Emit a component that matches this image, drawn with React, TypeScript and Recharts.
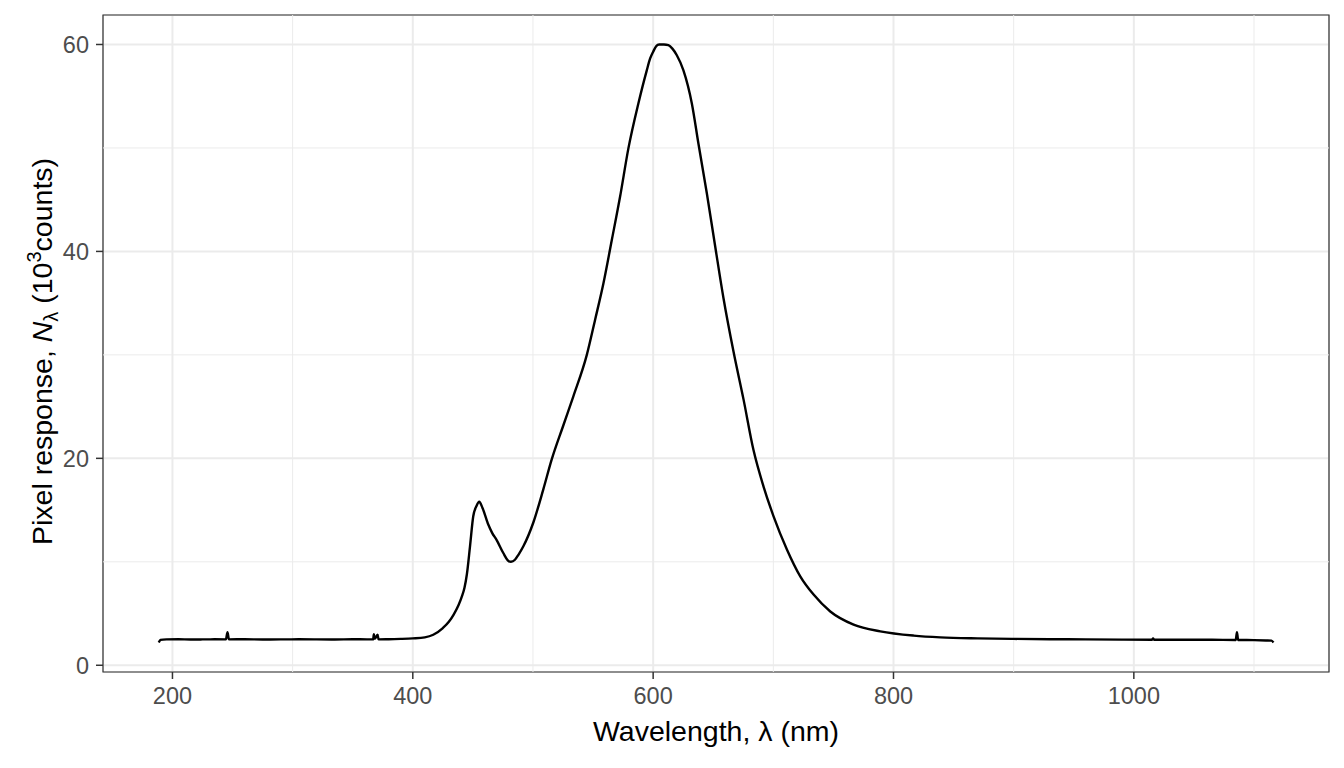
import React from "react";
import { LineChart, Line, XAxis, YAxis, CartesianGrid, ReferenceLine, ReferenceArea } from "recharts";

const wavelength = [
  188.6, 190, 195, 205, 215, 225, 235, 244.5, 245.8, 247, 260, 275, 290, 305, 320, 335, 350, 362,
  367, 367.6, 368.4, 370.7, 371.5, 380, 390, 400, 410, 417, 425, 430, 434, 438, 441, 443, 445, 447.6,
  450.3, 453, 455.3, 458, 462.8, 466, 469.8, 475.3, 479, 481.7, 485, 488, 492, 500.3, 508.6, 515.6,
  525.3, 533.6, 544.8, 551.7, 558.6, 565.6, 572.5, 579.4, 587.7, 594.7, 597.5, 600, 602.5, 605,
  609, 612.7, 616, 619.7, 625.2, 632.2, 637.7, 644.7, 651.6, 658.5, 666.9, 675.2, 683.5, 691.8,
  700.2, 711.3, 722.4, 733.5, 747.4, 766.8, 789, 816.8, 839, 870, 900, 930, 960, 990, 1015, 1016,
  1017, 1040, 1065, 1084.8, 1085.8, 1086.8, 1100, 1110, 1114.5, 1116.2,
];

const counts = [
  2.2, 2.45, 2.5, 2.52, 2.49, 2.5, 2.51, 2.5, 3.2, 2.5, 2.52, 2.49, 2.5, 2.51, 2.5, 2.49, 2.52, 2.5,
  2.51, 3.0, 2.55, 2.95, 2.5, 2.52, 2.55, 2.6, 2.7, 2.95, 3.6, 4.2, 4.9, 5.8, 6.7, 7.5, 8.8, 11.5,
  14.4, 15.4, 15.8, 15.2, 13.6, 12.8, 12.1, 10.85, 10.15, 10.0, 10.2, 10.7, 11.5, 13.8, 17.0, 19.9,
  23.2, 26.0, 30.0, 33.4, 36.9, 41.1, 45.3, 49.96, 54.3, 57.5, 58.65, 59.3, 59.83, 60.0,
  60.0, 59.93, 59.6, 58.96, 57.5, 54.3, 50.4, 45.6, 40.5, 35.5, 30.3, 25.7, 20.8, 17.3,
  14.4, 11.2, 8.6, 6.83, 5.2, 3.93, 3.28, 2.87, 2.7, 2.6, 2.55, 2.52, 2.5, 2.48, 2.47, 2.6,
  2.47, 2.47, 2.46, 2.45, 3.2, 2.45, 2.43, 2.4, 2.38, 2.2,
];

const xTicks = [200, 400, 600, 800, 1000];
const yTicks = [0, 20, 40, 60];
const xMinor = [300, 500, 700, 900, 1100];
const yMinor = [10, 30, 50];

const xDomain = [142.2, 1162.4];
const yDomain = [-0.65, 62.85];

const data = wavelength.map((w, i) => ({ wl: w, n: counts[i] }));

const FONT = "'Liberation Sans', Arial, Helvetica, sans-serif";

const XTitle = (props: any) => {
  const vb = props.viewBox || {};
  const cx = vb.x + vb.width / 2;
  return (
    <text x={cx} y={741} textAnchor="middle" fontSize={28.5} fontFamily={FONT} fill="#000">
      Wavelength, λ (nm)
    </text>
  );
};

const YTitle = (props: any) => {
  const vb = props.viewBox || {};
  const cy = vb.y + vb.height / 2 + 8;
  return (
    <text
      transform={`translate(52, ${cy}) rotate(-90)`}
      x={0}
      y={0}
      textAnchor="middle"
      fontSize={28.5}
      fontFamily={FONT}
      fill="#000"
    >
      <tspan>Pixel response, </tspan>
      <tspan fontStyle="italic">N</tspan>
      <tspan fontSize={20} dy={6}>λ</tspan>
      <tspan dy={-6}> (10</tspan>
      <tspan fontSize={20} dy={-11}>3</tspan>
      <tspan dy={11}>counts)</tspan>
    </text>
  );
};

export default function App() {
  return (
    <div style={{ position: "absolute", left: 0, top: 0, width: 1344, height: 768, background: "#fff" }}>
      <LineChart width={1344} height={768} data={data} margin={{ top: 15, right: 15, bottom: 0, left: 0 }}>
        <CartesianGrid stroke="#EBEBEB" strokeWidth={2} />
        {xMinor.map((v) => (
          <ReferenceLine key={"xm" + v} x={v} stroke="#EBEBEB" strokeWidth={1} />
        ))}
        {yMinor.map((v) => (
          <ReferenceLine key={"ym" + v} y={v} stroke="#EBEBEB" strokeWidth={1} />
        ))}
        <XAxis
          type="number"
          dataKey="wl"
          domain={xDomain}
          ticks={xTicks}
          allowDataOverflow
          height={96}
          axisLine={false}
          tickLine={{ stroke: "#333333", strokeWidth: 1.5 }}
          tickSize={7}
          tickMargin={8}
          tick={{ fill: "#4D4D4D", fontSize: 23.5, fontFamily: FONT }}
          label={{ content: XTitle }}
        />
        <YAxis
          type="number"
          domain={yDomain}
          ticks={yTicks}
          allowDataOverflow
          width={103}
          axisLine={false}
          tickLine={{ stroke: "#333333", strokeWidth: 1.5 }}
          tickSize={7}
          tickMargin={7}
          tick={{ fill: "#4D4D4D", fontSize: 23.5, fontFamily: FONT }}
          label={{ content: YTitle }}
        />
        <ReferenceArea
          x1={xDomain[0]}
          x2={xDomain[1]}
          y1={yDomain[0]}
          y2={yDomain[1]}
          fill="none"
          fillOpacity={0}
          stroke="#333333"
          strokeWidth={1.2}
        />
        <Line
          type="monotone"
          dataKey="n"
          stroke="#000"
          strokeWidth={2.4}
          dot={false}
          isAnimationActive={false}
        />
      </LineChart>
    </div>
  );
}
